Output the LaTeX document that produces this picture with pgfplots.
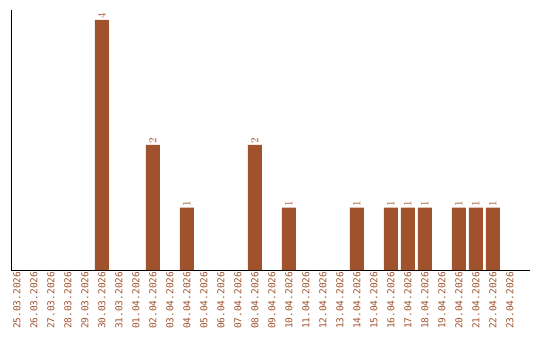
\documentclass[border=0pt]{standalone}
\usepackage{pgfplots}
\pgfplotsset{compat=1.18}
\usepackage{fontspec}
\setmainfont{DejaVu Sans Mono}
\definecolor{barc}{HTML}{A0522D}
\begin{document}
\begin{tikzpicture}[x=1pt,y=1pt]
\useasboundingbox (0,0) rectangle (540,340);
\begin{axis}[
  at={(11pt,70pt)}, anchor=south west,
  scale only axis, width=519pt, height=260pt,
  xmin=-0.35, xmax=30.18, ymin=0, ymax=4.16,
  axis x line*=bottom, axis y line*=left,
  axis line style={-, black, line width=0.8pt},
  ytick=\empty,
  xtick={0,...,29},
  xticklabels={25.03.2026,26.03.2026,27.03.2026,28.03.2026,29.03.2026,30.03.2026,31.03.2026,01.04.2026,02.04.2026,03.04.2026,04.04.2026,05.04.2026,06.04.2026,07.04.2026,08.04.2026,09.04.2026,10.04.2026,11.04.2026,12.04.2026,13.04.2026,14.04.2026,15.04.2026,16.04.2026,17.04.2026,18.04.2026,19.04.2026,20.04.2026,21.04.2026,22.04.2026,23.04.2026},
  xticklabel style={rotate=90, anchor=east, font=\fontsize{9.5}{10}\selectfont, text=barc, inner sep=1.5pt},
  major tick length=0pt,
  xtick style={draw=none},
  nodes near coords,
  nodes near coords style={rotate=90, anchor=west, font=\fontsize{10.5}{11}\selectfont, text=barc, inner sep=1pt},
  clip=false,
]
\addplot[ybar, bar width=14pt, fill=barc, draw=none, color=barc] coordinates {
(5,4) (8,2) (10,1) (14,2) (16,1) (20,1) (22,1) (23,1) (24,1) (26,1) (27,1) (28,1)
};
\end{axis}
\end{tikzpicture}
\end{document}
